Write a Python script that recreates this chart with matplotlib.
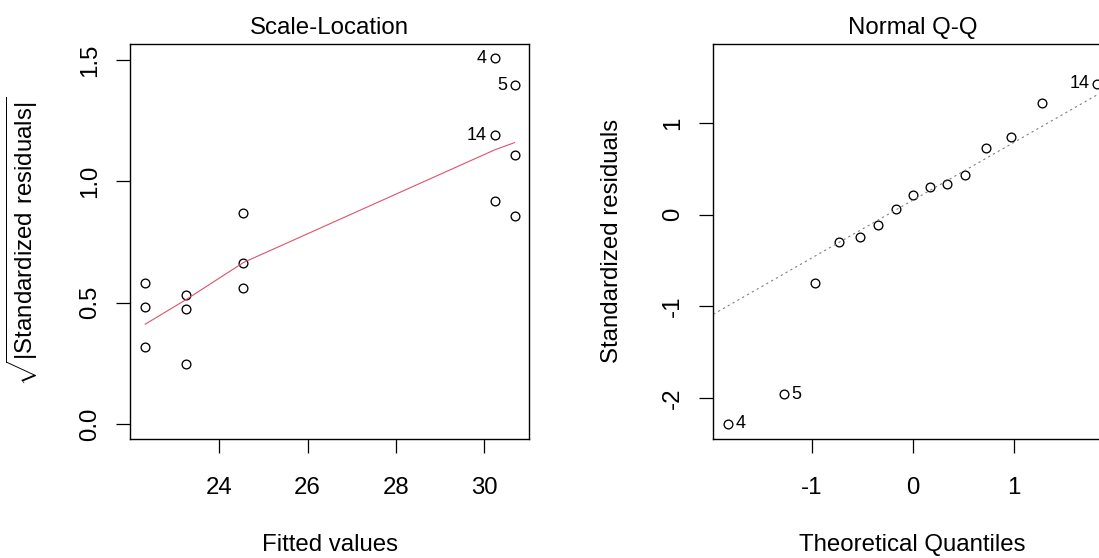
import numpy as np
import matplotlib
matplotlib.use("Agg")
import matplotlib.pyplot as plt

plt.rcParams['font.family'] = ['Liberation Sans', 'DejaVu Sans']
plt.rcParams['mathtext.fontset'] = 'custom'
plt.rcParams['mathtext.rm'] = 'Liberation Sans'
plt.rcParams['axes.unicode_minus'] = False

# Scale-Location panel
fitted = [22.33, 22.33, 22.33, 23.26, 23.26, 23.26, 24.55, 24.55, 24.55,
          30.23, 30.23, 30.23, 30.68, 30.68, 30.68]
sqrt_std_resid = [0.579, 0.482, 0.315, 0.533, 0.475, 0.249, 0.868, 0.662, 0.560,
                  1.507, 1.190, 0.920, 1.396, 1.107, 0.856]
point_ids = [None, None, None, None, None, None, None, None, None,
             "4", "14", None, "5", None, None]

# smoother (red line) through the unique fitted values
smooth_x = [22.33, 23.26, 24.55, 30.23, 30.68]
smooth_y = [0.411, 0.513, 0.665, 1.129, 1.159]

# Normal Q-Q panel
theo_q = [-1.83, -1.28, -0.97, -0.73, -0.52, -0.34, -0.17, 0.0,
          0.17, 0.34, 0.52, 0.73, 0.97, 1.28, 1.83]
std_resid = [-2.282, -1.958, -0.751, -0.295, -0.241, -0.109, 0.062, 0.216,
             0.300, 0.333, 0.434, 0.726, 0.842, 1.219, 1.427]
qq_ids = ["4", "5", None, None, None, None, None, None,
          None, None, None, None, None, None, "14"]

W, H = 1099, 558
DPI = 100
FS = 17.3
ID_FS = 13

fig = plt.figure(figsize=(W / DPI, H / DPI), dpi=DPI)
ax1 = fig.add_axes([0.1187, 0.2140, 0.3629, 0.708])
ax2 = fig.add_axes([0.6490, 0.2140, 0.3629, 0.708])


def r_range(lo, hi):
    d = hi - lo
    return lo - 0.04 * d, hi + 0.04 * d


def style_axes(ax):
    for sp in ax.spines.values():
        sp.set_linewidth(1.0)
        sp.set_color('black')
    ax.tick_params(axis='both', direction='out', length=9.8, width=0.9,
                   labelsize=FS, colors='black')
    ax.tick_params(axis='x', pad=17.5)
    ax.tick_params(axis='y', pad=11.0, labelrotation=90)
    for lab in ax.get_yticklabels():
        lab.set_va('center')


marker_kw = dict(marker='o', ms=6.3, mfc='none', mec='black', mew=0.95, ls='none')

# --- Scale-Location ---
ax1.plot(fitted, sqrt_std_resid, **marker_kw)
ax1.plot(smooth_x, smooth_y, color='#DF536B', lw=0.8)
for x, y, lab in zip(fitted, sqrt_std_resid, point_ids):
    if lab:
        ax1.annotate(lab, (x, y), xytext=(-5.5, 0), textcoords='offset points',
                     ha='right', va='center', fontsize=ID_FS)
ax1.set_xlim(*r_range(min(fitted), max(fitted)))
ax1.set_ylim(*r_range(0, max(sqrt_std_resid)))
ax1.set_xticks([24, 26, 28, 30])
ax1.set_yticks([0.0, 0.5, 1.0, 1.5])
ax1.set_yticklabels(['0.0', '0.5', '1.0', '1.5'])
style_axes(ax1)
ax1.set_title('Scale-Location', fontsize=FS, pad=7.2)
ax1.set_xlabel('Fitted values', fontsize=FS)
ax1.set_ylabel(r'$\sqrt{|\mathrm{Standardized\ residuals}|}$', fontsize=FS)
ax1.xaxis.set_label_coords(0.5, -0.2415)
ax1.yaxis.set_label_coords(-0.2265, 0.5)

# --- Normal Q-Q ---
ax2.plot(theo_q, std_resid, **marker_kw)
# reference line through the quartiles, as qqline does
yq = np.percentile(std_resid, [25, 75])
xq = np.array([-0.6745, 0.6745])
slope = (yq[1] - yq[0]) / (xq[1] - xq[0])
icpt = yq[0] - slope * xq[0]
ax2.axline((0, icpt), slope=slope, color='#808080', lw=0.8, ls=(0, (2, 3)))
for x, y, lab in zip(theo_q, std_resid, qq_ids):
    if lab:
        left = x > 0
        ax2.annotate(lab, (x, y), xytext=(-5.5 if left else 5.5, 0),
                     textcoords='offset points', ha='right' if left else 'left',
                     va='center', fontsize=ID_FS)
ax2.set_xlim(*r_range(min(theo_q), max(theo_q)))
lo, hi = min(std_resid), max(std_resid)
hi = hi + (hi - lo) * 0.075
ax2.set_ylim(*r_range(lo, hi))
ax2.set_xticks([-1, 0, 1])
ax2.set_yticks([-2, -1, 0, 1])
style_axes(ax2)
ax2.set_title('Normal Q-Q', fontsize=FS, pad=7.2)
ax2.set_xlabel('Theoretical Quantiles', fontsize=FS)
ax2.set_ylabel('Standardized residuals', fontsize=FS)
ax2.xaxis.set_label_coords(0.5, -0.2415)
ax2.yaxis.set_label_coords(-0.2265, 0.5)

fig.savefig('out.png', dpi=DPI)
